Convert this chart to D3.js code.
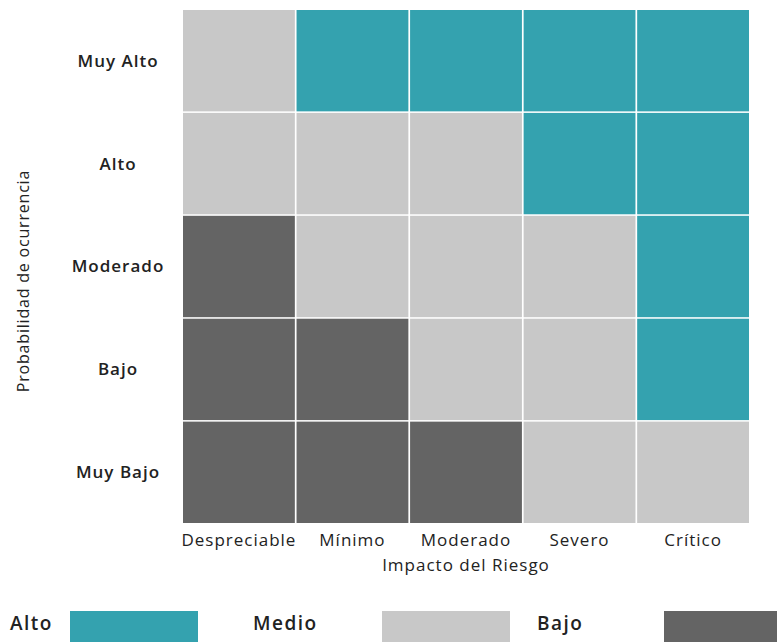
<!DOCTYPE html>
<html>

<head>
	<meta charset="utf-8">
	<title>Matriz de riesgo</title>
	<script src="https://cdn.jsdelivr.net/npm/d3@7"></script>
</head>

<style>
	body {
		margin: 0;
		background: #fff;
	}

	text {
		font-family: "Open Sans", Lato, sans-serif;
		fill: #222;
	}
</style>

<body>
	<svg width="777" height="642"></svg>

	<script>
		var impacto = ["Despreciable", "Mínimo", "Moderado", "Severo", "Crítico"];
		var probabilidad = ["Muy Alto", "Alto", "Moderado", "Bajo", "Muy Bajo"];
		var niveles = ["Alto", "Medio", "Bajo"];

		// nivel de riesgo por fila (probabilidad) y columna (impacto)
		var muyAlto = ["Medio", "Alto", "Alto", "Alto", "Alto"];
		var alto = ["Medio", "Medio", "Medio", "Alto", "Alto"];
		var moderado = ["Bajo", "Medio", "Medio", "Medio", "Alto"];
		var bajo = ["Bajo", "Bajo", "Medio", "Medio", "Alto"];
		var muyBajo = ["Bajo", "Bajo", "Bajo", "Medio", "Medio"];

		var filas = [muyAlto, alto, moderado, bajo, muyBajo];

		var cells = [];
		filas.forEach(function(fila, i) {
			fila.forEach(function(nivel, j) {
				cells.push({ prob: probabilidad[i], imp: impacto[j], nivel: nivel });
			});
		});

		var svg = d3.select("svg");

		var x = d3.scaleBand()
			.domain(impacto)
			.range([183, 749])
			.paddingInner(0.015);

		var y = d3.scaleBand()
			.domain(probabilidad)
			.range([10, 523])
			.paddingInner(0.015);

		var color = d3.scaleOrdinal()
			.domain(niveles)
			.range(["#34a2af", "#c8c8c8", "#646464"]);

		svg.append("g")
			.selectAll("rect")
			.data(cells)
			.enter().append("rect")
			.attr("x", function(d) { return x(d.imp); })
			.attr("y", function(d) { return y(d.prob); })
			.attr("width", x.bandwidth())
			.attr("height", y.bandwidth())
			.style("fill", function(d) { return color(d.nivel); });

		// etiquetas de filas
		svg.append("g")
			.selectAll("text")
			.data(probabilidad)
			.enter().append("text")
			.attr("x", 118)
			.attr("y", function(d) { return y(d) + y.bandwidth() / 2; })
			.attr("dy", ".35em")
			.attr("text-anchor", "middle")
			.style("font-size", "17px")
			.style("letter-spacing", "1px")
			.style("font-weight", 600)
			.text(function(d) { return d; });

		// etiquetas de columnas
		svg.append("g")
			.selectAll("text")
			.data(impacto)
			.enter().append("text")
			.attr("x", function(d) { return x(d) + x.bandwidth() / 2; })
			.attr("y", 546)
			.attr("text-anchor", "middle")
			.style("font-size", "17px")
			.style("letter-spacing", "1px")
			.text(function(d) { return d; });

		svg.append("text")
			.attr("x", 466)
			.attr("y", 571)
			.attr("text-anchor", "middle")
			.style("font-size", "17px")
			.style("letter-spacing", "1px")
			.text("Impacto del Riesgo");

		svg.append("text")
			.attr("transform", "translate(29,281) rotate(-90)")
			.attr("text-anchor", "middle")
			.style("font-size", "16px")
			.style("letter-spacing", "0.8px")
			.text("Probabilidad de ocurrencia");

		// leyenda
		var legendX = d3.scaleOrdinal()
			.domain(niveles)
			.range([10, 253, 537]);

		var legend = svg.append("g")
			.selectAll("g")
			.data(niveles)
			.enter().append("g")
			.attr("transform", function(d) { return "translate(" + legendX(d) + ",0)"; });

		legend.append("text")
			.attr("x", 0)
			.attr("y", 630)
			.style("font-size", "19px")
			.style("letter-spacing", "1.5px")
			.style("font-weight", 600)
			.text(function(d) { return d; });

		legend.append("rect")
			.attr("x", function(d, i) { return [60, 129, 127][i]; })
			.attr("y", 611)
			.attr("width", 128)
			.attr("height", 40)
			.style("fill", function(d) { return color(d); });
	</script>

</body>

</html>
